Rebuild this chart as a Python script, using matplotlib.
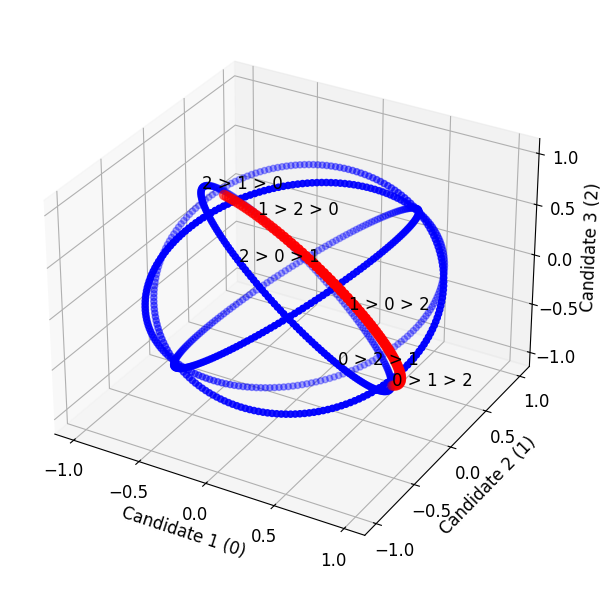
import numpy as np
import matplotlib
matplotlib.use("Agg")
import matplotlib.pyplot as plt

rankings = ["0 > 1 > 2", "0 > 2 > 1", "1 > 0 > 2", "1 > 2 > 0", "2 > 0 > 1", "2 > 1 > 0"]
axis_labels = ["Candidate 1 (0)", "Candidate 2 (1)", "Candidate 3 (2)"]
# great circles given by two orthogonal basis vectors
circles = [((1, 0, -1), (1, -2, 1)),   # x+y+z=0
           ((1, 1, 1), (1, 1, -2)),    # x=y
           ((1, 1, 1), (-2, 1, 1)),    # y=z
           ((1, 1, 1), (1, -2, 1))]    # x=z
red_mid = [0.85, -0.57, 0.41]
n_points = 200

def unit(v):
    v = np.array(v, float)
    return v / np.linalg.norm(v)

def great_circle(u, v, t):
    return np.outer(np.cos(t), unit(u)) + np.outer(np.sin(t), unit(v))

fig = plt.figure(figsize=(6.15, 5.97), dpi=100)
ax = fig.add_axes([0.005, 0.045, 0.93, 0.924], projection='3d')
ax.computed_zorder = False
t = np.linspace(0, 2*np.pi, n_points)
for u, v in circles:
    p = great_circle(u, v, t)
    ax.scatter(p[:, 0], p[:, 1], p[:, 2], color='blue', s=20, zorder=2)

a = unit((-1, 0, 1))
m = unit(red_mid)
w = unit(m - (m @ a) * a)
tr = np.linspace(0.42, np.pi - 0.02, 80)
r = np.outer(np.cos(tr), a) + np.outer(np.sin(tr), w)
ax.scatter(r[:, 0], r[:, 1], r[:, 2], color='red', s=45, zorder=3)

for lab in rankings:
    order = [int(c) for c in lab.split(" > ")]
    vec = np.zeros(3)
    vec[order[0]] = 1; vec[order[2]] = -1
    vec = unit(vec)
    ax.text(vec[0], vec[1], vec[2], lab, fontsize=12, zorder=5)

ax.set_xlabel(axis_labels[0], fontsize=12)
ax.set_ylabel(axis_labels[1], fontsize=12)
ax.set_zlabel(axis_labels[2], fontsize=12)
for f in (ax.set_xticks, ax.set_yticks, ax.set_zticks):
    f([-1.0, -0.5, 0.0, 0.5, 1.0])
ax.tick_params(labelsize=12)
fig.savefig("out.png")
